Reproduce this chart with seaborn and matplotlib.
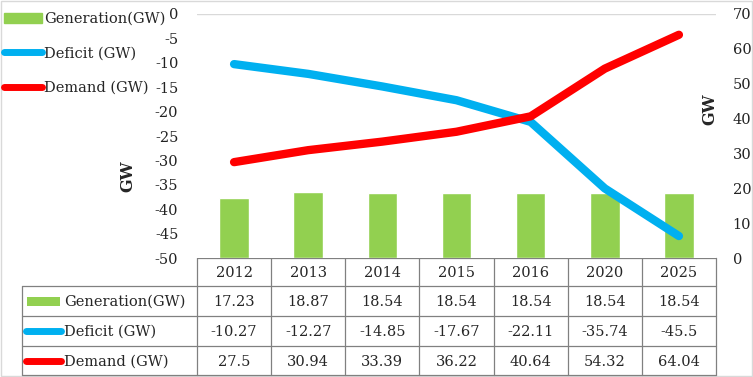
import matplotlib

matplotlib.use("Agg")
import matplotlib.pyplot as plt
import numpy as np
import pandas as pd
import seaborn as sns
from matplotlib.lines import Line2D
from matplotlib.patches import Patch, Rectangle

years = ["2012", "2013", "2014", "2015", "2016", "2020", "2025"]
generation = [17.23, 18.87, 18.54, 18.54, 18.54, 18.54, 18.54]
deficit = [-10.27, -12.27, -14.85, -17.67, -22.11, -35.74, -45.5]
demand = [27.5, 30.94, 33.39, 36.22, 40.64, 54.32, 64.04]
gen_labels = ["17.23", "18.87", "18.54", "18.54", "18.54", "18.54", "18.54"]
def_labels = ["-10.27", "-12.27", "-14.85", "-17.67", "-22.11", "-35.74", "-45.5"]
dem_labels = ["27.5", "30.94", "33.39", "36.22", "40.64", "54.32", "64.04"]
series_names = ["Generation(GW)", "Deficit (GW)", "Demand (GW)"]

GREEN = "#92D050"
BLUE = "#00B0F0"
RED = "#FF0000"
GRID = "#808080"
FS = 10.5

sns.set_theme(style="white")
plt.rcParams["font.family"] = ["DejaVu Serif"]
plt.rcParams["axes.unicode_minus"] = False

df = pd.DataFrame({"year": years, "generation": generation, "deficit": deficit, "demand": demand})

W, H = 753, 377
fig = plt.figure(figsize=(W / 100, H / 100), dpi=100)

x0, x1, y_top, y_bot = 197, 716, 14, 258
rect = [x0 / W, 1 - y_bot / H, (x1 - x0) / W, (y_bot - y_top) / H]

ax_bar = fig.add_axes(rect)
ax_def = fig.add_axes(rect, sharex=ax_bar)
ax_dem = fig.add_axes(rect, sharex=ax_bar)
ax_bar.set_zorder(1)
ax_def.set_zorder(2)
ax_dem.set_zorder(3)
ax_def.patch.set_visible(False)
ax_dem.patch.set_visible(False)

sns.barplot(data=df, x="year", y="generation", color=GREEN, width=0.4, saturation=1, ax=ax_bar)
sns.lineplot(data=df, x="year", y="deficit", color=BLUE, linewidth=6, sort=False, ax=ax_def,
             solid_capstyle="round", solid_joinstyle="round")
sns.lineplot(data=df, x="year", y="demand", color=RED, linewidth=6, sort=False, ax=ax_dem,
             solid_capstyle="round", solid_joinstyle="round")

ax_bar.set_xlim(-0.5, len(years) - 0.5)
ax_bar.set_ylim(0, 70)
ax_dem.set_ylim(0, 70)
ax_def.set_ylim(-50, 0)

for a in (ax_bar, ax_def, ax_dem):
    for s in a.spines.values():
        s.set_visible(False)
    a.set_xlabel("")
    a.set_ylabel("")
    a.tick_params(axis="x", bottom=False, labelbottom=False)

# right axis (bars scale)
ax_bar.yaxis.tick_right()
ax_bar.set_yticks(np.arange(0, 71, 10))
ax_bar.tick_params(axis="y", length=0, labelright=True, labelleft=False,
                   labelsize=FS, pad=12, colors="#222222")
ax_bar.axhline(70, color="#D9D9D9", linewidth=1)

ax_def.set_yticks(np.arange(-50, 1, 5))
ax_def.tick_params(axis="y", length=0, labelsize=FS, pad=13.5, colors="#222222")
ax_dem.set_yticks([])

fig.text(128 / W, 1 - 176 / H, "GW", rotation=90, ha="center", va="center",
         fontsize=11.5, fontweight="bold")
fig.text(710 / W, 1 - 109 / H, "GW", rotation=90, ha="center", va="center",
         fontsize=11.5, fontweight="bold")

# legend
handles = [
    Patch(facecolor=GREEN, edgecolor=GREEN),
    Line2D([0], [0], color=BLUE, linewidth=5, solid_capstyle="round"),
    Line2D([0], [0], color=RED, linewidth=5, solid_capstyle="round"),
]
fig.legend(handles, series_names, loc="upper left", bbox_to_anchor=(4 / W, 1 - 12 / H),
           frameon=False, fontsize=FS, handlelength=2.6, handletextpad=0.15,
           labelspacing=1.4, borderaxespad=0, borderpad=0)

# data table
tab = fig.add_axes([0, 0, 1, 1], zorder=0)
tab.set_xlim(0, W)
tab.set_ylim(H, 0)
tab.axis("off")
col_w = (x1 - x0) / len(years)
row_y = [258, 286, 316, 346, 375]
lw = 0.9
tab.plot([x0, x1], [row_y[0], row_y[0]], color=GRID, lw=lw)
for yy in row_y[1:]:
    tab.plot([22.5, x1], [yy, yy], color=GRID, lw=lw)
tab.plot([22.5, 22.5], [row_y[1], row_y[-1]], color=GRID, lw=lw)
for i in range(len(years) + 1):
    xx = x0 + i * col_w
    tab.plot([xx, xx], [row_y[0], row_y[-1]], color=GRID, lw=lw)

rows = [gen_labels, def_labels, dem_labels]
for i, yr in enumerate(years):
    cx = x0 + (i + 0.5) * col_w
    tab.text(cx, (row_y[0] + row_y[1]) / 2 + 1, yr, ha="center", va="center", fontsize=FS)
    for r, vals in enumerate(rows):
        tab.text(cx, (row_y[r + 1] + row_y[r + 2]) / 2 + 1, vals[i], ha="center", va="center",
                 fontsize=FS)

# row headers with keys
ys = [(row_y[k] + row_y[k + 1]) / 2 for k in range(1, 4)]
tab.add_patch(Rectangle((27, ys[0] - 4.5), 33, 9, facecolor=GREEN, edgecolor="none"))
tab.plot([26, 61], [ys[1], ys[1]], color=BLUE, lw=5, solid_capstyle="round")
tab.plot([26, 61], [ys[2], ys[2]], color=RED, lw=5, solid_capstyle="round")
for k, name in enumerate(series_names):
    tab.text(64, ys[k] + 1, name, ha="left", va="center", fontsize=FS)

# chart border
tab.add_patch(Rectangle((0.5, 0.5), W - 1, H - 1.5, fill=False, edgecolor="#D9D9D9", lw=1))

fig.savefig("out.png", dpi=100)
